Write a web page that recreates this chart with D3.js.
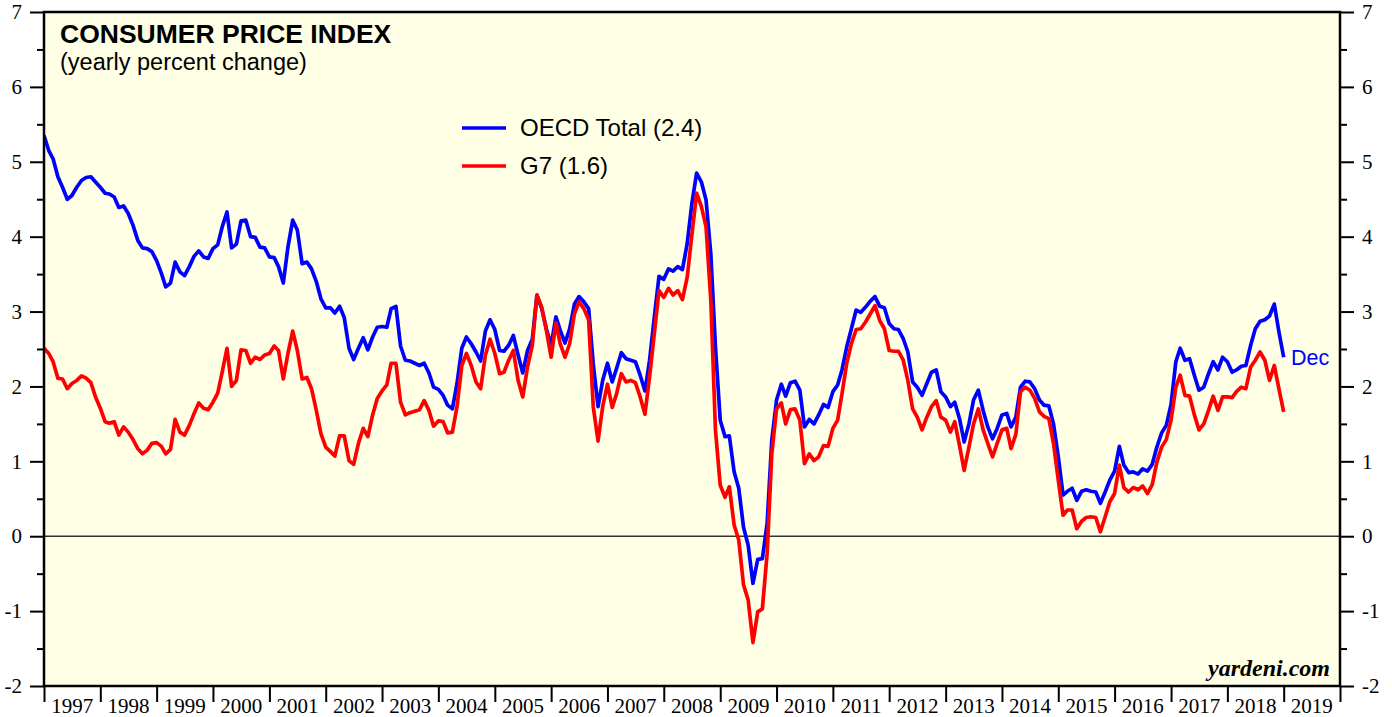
<!DOCTYPE html>
<html>
<head>
<meta charset="utf-8">
<script src="https://cdn.jsdelivr.net/npm/d3@7"></script>
<style>
  body { margin: 0; background: #fff; }
  svg { display: block; }
</style>
</head>
<body>
<div id="chart"></div>
<script>
// monthly values, Dec 1996 .. Dec 2018 (yearly % change)
var oecd = [
  5.35,5.15,5.04,4.80,4.66,4.50,4.55,4.66,4.75,4.79,
  4.80,4.73,4.66,4.58,4.57,4.53,4.39,4.41,4.31,4.15,
  3.95,3.85,3.84,3.80,3.68,3.51,3.33,3.38,3.66,3.53,
  3.48,3.60,3.74,3.81,3.73,3.71,3.84,3.89,4.13,4.33,
  3.85,3.90,4.21,4.22,4.00,3.99,3.86,3.85,3.73,3.72,
  3.60,3.38,3.86,4.22,4.09,3.64,3.66,3.57,3.40,3.17,
  3.05,3.05,2.98,3.07,2.92,2.51,2.36,2.51,2.65,2.49,
  2.66,2.79,2.80,2.79,3.04,3.07,2.54,2.35,2.34,2.31,
  2.28,2.31,2.18,1.99,1.96,1.88,1.75,1.70,2.04,2.51,
  2.66,2.57,2.46,2.34,2.74,2.89,2.76,2.48,2.47,2.55,
  2.68,2.42,2.18,2.48,2.63,3.22,3.04,2.77,2.55,2.93,
  2.75,2.58,2.77,3.10,3.20,3.13,3.04,2.30,1.73,2.08,
  2.31,2.06,2.24,2.45,2.37,2.35,2.33,2.15,1.94,2.35,
  2.93,3.47,3.43,3.57,3.54,3.60,3.56,3.91,4.44,4.85,
  4.73,4.49,3.77,2.53,1.55,1.33,1.34,0.86,0.64,0.12,
  -0.12,-0.63,-0.31,-0.30,0.17,1.28,1.82,2.03,1.87,2.05,
  2.07,1.95,1.46,1.56,1.50,1.62,1.76,1.72,1.93,2.02,
  2.22,2.53,2.77,3.02,2.99,3.06,3.14,3.20,3.07,3.05,
  2.84,2.77,2.76,2.64,2.46,2.06,1.99,1.88,2.04,2.19,
  2.22,1.93,1.86,1.73,1.79,1.57,1.26,1.50,1.82,1.95,
  1.68,1.46,1.30,1.44,1.62,1.64,1.46,1.59,1.99,2.07,
  2.06,1.97,1.82,1.75,1.74,1.50,1.06,0.55,0.60,0.64,
  0.48,0.60,0.62,0.60,0.59,0.44,0.59,0.75,0.87,1.20,
  0.95,0.85,0.86,0.83,0.90,0.87,0.96,1.19,1.38,1.48,
  1.76,2.33,2.51,2.35,2.37,2.15,1.95,1.99,2.17,2.33,
  2.22,2.39,2.33,2.19,2.22,2.27,2.28,2.55,2.77,2.87,
  2.89,2.94,3.10,2.73,2.39
];
var g7 = [
  2.51,2.44,2.33,2.11,2.10,1.97,2.04,2.08,2.14,2.11,
  2.05,1.86,1.71,1.53,1.51,1.53,1.35,1.46,1.39,1.29,
  1.17,1.10,1.15,1.24,1.25,1.20,1.10,1.16,1.56,1.39,
  1.35,1.48,1.64,1.78,1.71,1.69,1.79,1.91,2.19,2.51,
  2.00,2.08,2.49,2.48,2.31,2.39,2.36,2.42,2.44,2.54,
  2.48,2.10,2.44,2.74,2.48,2.10,2.12,1.97,1.68,1.37,
  1.19,1.13,1.07,1.34,1.34,1.01,0.96,1.24,1.44,1.33,
  1.62,1.84,1.94,2.02,2.31,2.31,1.79,1.62,1.65,1.67,
  1.69,1.81,1.68,1.47,1.54,1.53,1.38,1.39,1.73,2.28,
  2.44,2.28,2.06,1.97,2.42,2.63,2.44,2.17,2.19,2.35,
  2.48,2.08,1.86,2.26,2.55,3.22,3.06,2.75,2.39,2.85,
  2.57,2.39,2.57,2.97,3.13,3.04,2.89,1.73,1.27,1.73,
  2.03,1.72,1.90,2.17,2.06,2.08,2.05,1.86,1.63,2.13,
  2.71,3.28,3.19,3.31,3.22,3.28,3.16,3.46,4.02,4.58,
  4.40,4.13,3.15,1.42,0.68,0.52,0.66,0.15,-0.05,-0.65,
  -0.85,-1.42,-1.01,-0.97,-0.23,1.10,1.70,1.78,1.50,1.69,
  1.70,1.55,0.97,1.10,1.01,1.06,1.21,1.20,1.44,1.55,
  1.90,2.31,2.57,2.76,2.77,2.86,2.97,3.08,2.88,2.77,
  2.48,2.47,2.47,2.35,2.08,1.70,1.59,1.42,1.59,1.73,
  1.81,1.59,1.55,1.39,1.53,1.21,0.88,1.19,1.50,1.70,
  1.42,1.24,1.06,1.24,1.42,1.44,1.17,1.36,1.93,1.99,
  1.95,1.84,1.66,1.60,1.57,1.24,0.75,0.28,0.35,0.35,
  0.10,0.20,0.25,0.26,0.25,0.06,0.26,0.46,0.57,0.95,
  0.65,0.59,0.65,0.62,0.67,0.57,0.69,0.99,1.19,1.29,
  1.55,1.99,2.15,1.88,1.87,1.62,1.42,1.50,1.68,1.87,
  1.68,1.86,1.86,1.85,1.93,1.99,1.97,2.26,2.35,2.46,
  2.35,2.08,2.28,1.97,1.66
];
var years = d3.range(1997, 2020);
var yTicks = d3.range(-2, 8);
var seriesNames = ["OECD Total (2.4)", "G7 (1.6)"];
var seriesColors = ["#0000ff", "#ff0000"];

var W = 1392, H = 717;
var margin = {left: 44, right: 1340, top: 12, bottom: 686};

var svg = d3.select("#chart").append("svg")
    .attr("width", W)
    .attr("height", H);

var x = d3.scaleTime()
    .domain([new Date(1997, 0, 1), new Date(2020, 0, 1)])
    .range([margin.left, margin.right]);
var y = d3.scaleLinear()
    .domain([-2, 7])
    .range([margin.bottom, margin.top]);

// each month is plotted at the end of the month (Dec 1996 -> Jan 1 1997)
var start = new Date(1996, 11, 1);
function monthEnd(i) { return d3.timeMonth.offset(start, i + 1); }

//plot background
svg.append("rect")
    .attr("x", margin.left).attr("y", margin.top)
    .attr("width", margin.right - margin.left).attr("height", margin.bottom - margin.top)
    .attr("fill", "#ffffe6");

svg.append("defs").append("clipPath").attr("id", "clip")
  .append("rect")
    .attr("x", margin.left).attr("y", margin.top)
    .attr("width", margin.right - margin.left).attr("height", margin.bottom - margin.top);

// zero line
svg.append("line")
    .attr("x1", margin.left).attr("x2", margin.right)
    .attr("y1", y(0)).attr("y2", y(0))
    .attr("stroke", "#333").attr("stroke-width", 1.5);

// lines
var line = d3.line()
    .x(function(d, i) { return x(monthEnd(i)); })
    .y(function(d) { return y(d); });

[oecd, g7].forEach(function(s, k) {
    svg.append("path")
        .datum(s)
        .attr("clip-path", "url(#clip)")
        .attr("fill", "none")
        .attr("stroke", seriesColors[k])
        .attr("stroke-width", 3.7)
        .attr("stroke-linejoin", "round")
        .attr("d", line);
});

// frame
svg.append("rect")
    .attr("x", margin.left).attr("y", margin.top)
    .attr("width", margin.right - margin.left).attr("height", margin.bottom - margin.top)
    .attr("fill", "none")
    .attr("stroke", "#000").attr("stroke-width", 2.5);

// y axes
var serif = "'Liberation Serif', 'Times New Roman', serif";
var minor = d3.range(-1.5, 7, 1);
var fmt = function(d) { return String(d); };   // plain hyphen for negatives

var yl = svg.append("g")
    .attr("transform", "translate(" + margin.left + ",0)")
    .call(d3.axisLeft(y).tickValues(yTicks).tickSize(14).tickPadding(8).tickFormat(fmt));
var yl2 = svg.append("g")
    .attr("transform", "translate(" + margin.left + ",0)")
    .call(d3.axisLeft(y).tickValues(minor).tickSize(7).tickFormat(""));
var yr = svg.append("g")
    .attr("transform", "translate(" + margin.right + ",0)")
    .call(d3.axisRight(y).tickValues(yTicks).tickSize(14).tickPadding(8).tickFormat(fmt));
var yr2 = svg.append("g")
    .attr("transform", "translate(" + margin.right + ",0)")
    .call(d3.axisRight(y).tickValues(minor).tickSize(7).tickFormat(""));

// x axis (year boundaries)
var xa = svg.append("g")
    .attr("transform", "translate(0," + margin.bottom + ")")
    .call(d3.axisBottom(x)
        .tickValues(years.concat([2020]).map(function(yr) { return new Date(yr, 0, 1); }))
        .tickSize(16).tickFormat(""));

[yl, yl2, yr, yr2, xa].forEach(function(g) {
    g.select(".domain").remove();
    g.selectAll(".tick line").attr("stroke", "#000").attr("stroke-width", 2);
    g.selectAll("text")
        .attr("font-family", serif)
        .attr("font-size", "21px")
        .attr("fill", "#000");
});

svg.append("g").selectAll("text")
    .data(years)
    .enter()
    .append("text")
        .attr("x", function(d) { return (x(new Date(d, 0, 1)) + x(new Date(d + 1, 0, 1))) / 2; })
        .attr("y", 713)
        .attr("text-anchor", "middle")
        .attr("font-family", serif)
        .attr("font-size", "21px")
        .text(function(d) { return d; });

// titles
var sans = "'Liberation Sans', Arial, sans-serif";
svg.append("text")
    .attr("x", 60).attr("y", 43)
    .attr("font-family", sans).attr("font-weight", "bold").attr("font-size", "26.5px")
    .text("CONSUMER PRICE INDEX");
svg.append("text")
    .attr("x", 60).attr("y", 70)
    .attr("font-family", sans).attr("font-size", "23.5px")
    .text("(yearly percent change)");

// legend
var leg = svg.append("g").selectAll("g")
    .data(seriesNames)
    .enter()
    .append("g")
        .attr("transform", function(d, i) { return "translate(462," + (128 + i * 38) + ")"; });
leg.append("line")
    .attr("x1", 0).attr("x2", 44)
    .attr("stroke", function(d, i) { return seriesColors[i]; })
    .attr("stroke-width", 3.7);
leg.append("text")
    .attr("x", 58).attr("y", 8)
    .attr("font-family", sans).attr("font-size", "24px")
    .text(function(d) { return d; });

svg.append("text")
    .attr("x", 1291).attr("y", 365)
    .attr("font-family", sans).attr("font-size", "21.5px")
    .attr("fill", "#0000ff")
    .text("Dec");

svg.append("text")
    .attr("x", 1330).attr("y", 676)
    .attr("text-anchor", "end")
    .attr("font-family", serif).attr("font-weight", "bold").attr("font-style", "italic")
    .attr("font-size", "24px")
    .text("yardeni.com");
</script>
</body>
</html>
